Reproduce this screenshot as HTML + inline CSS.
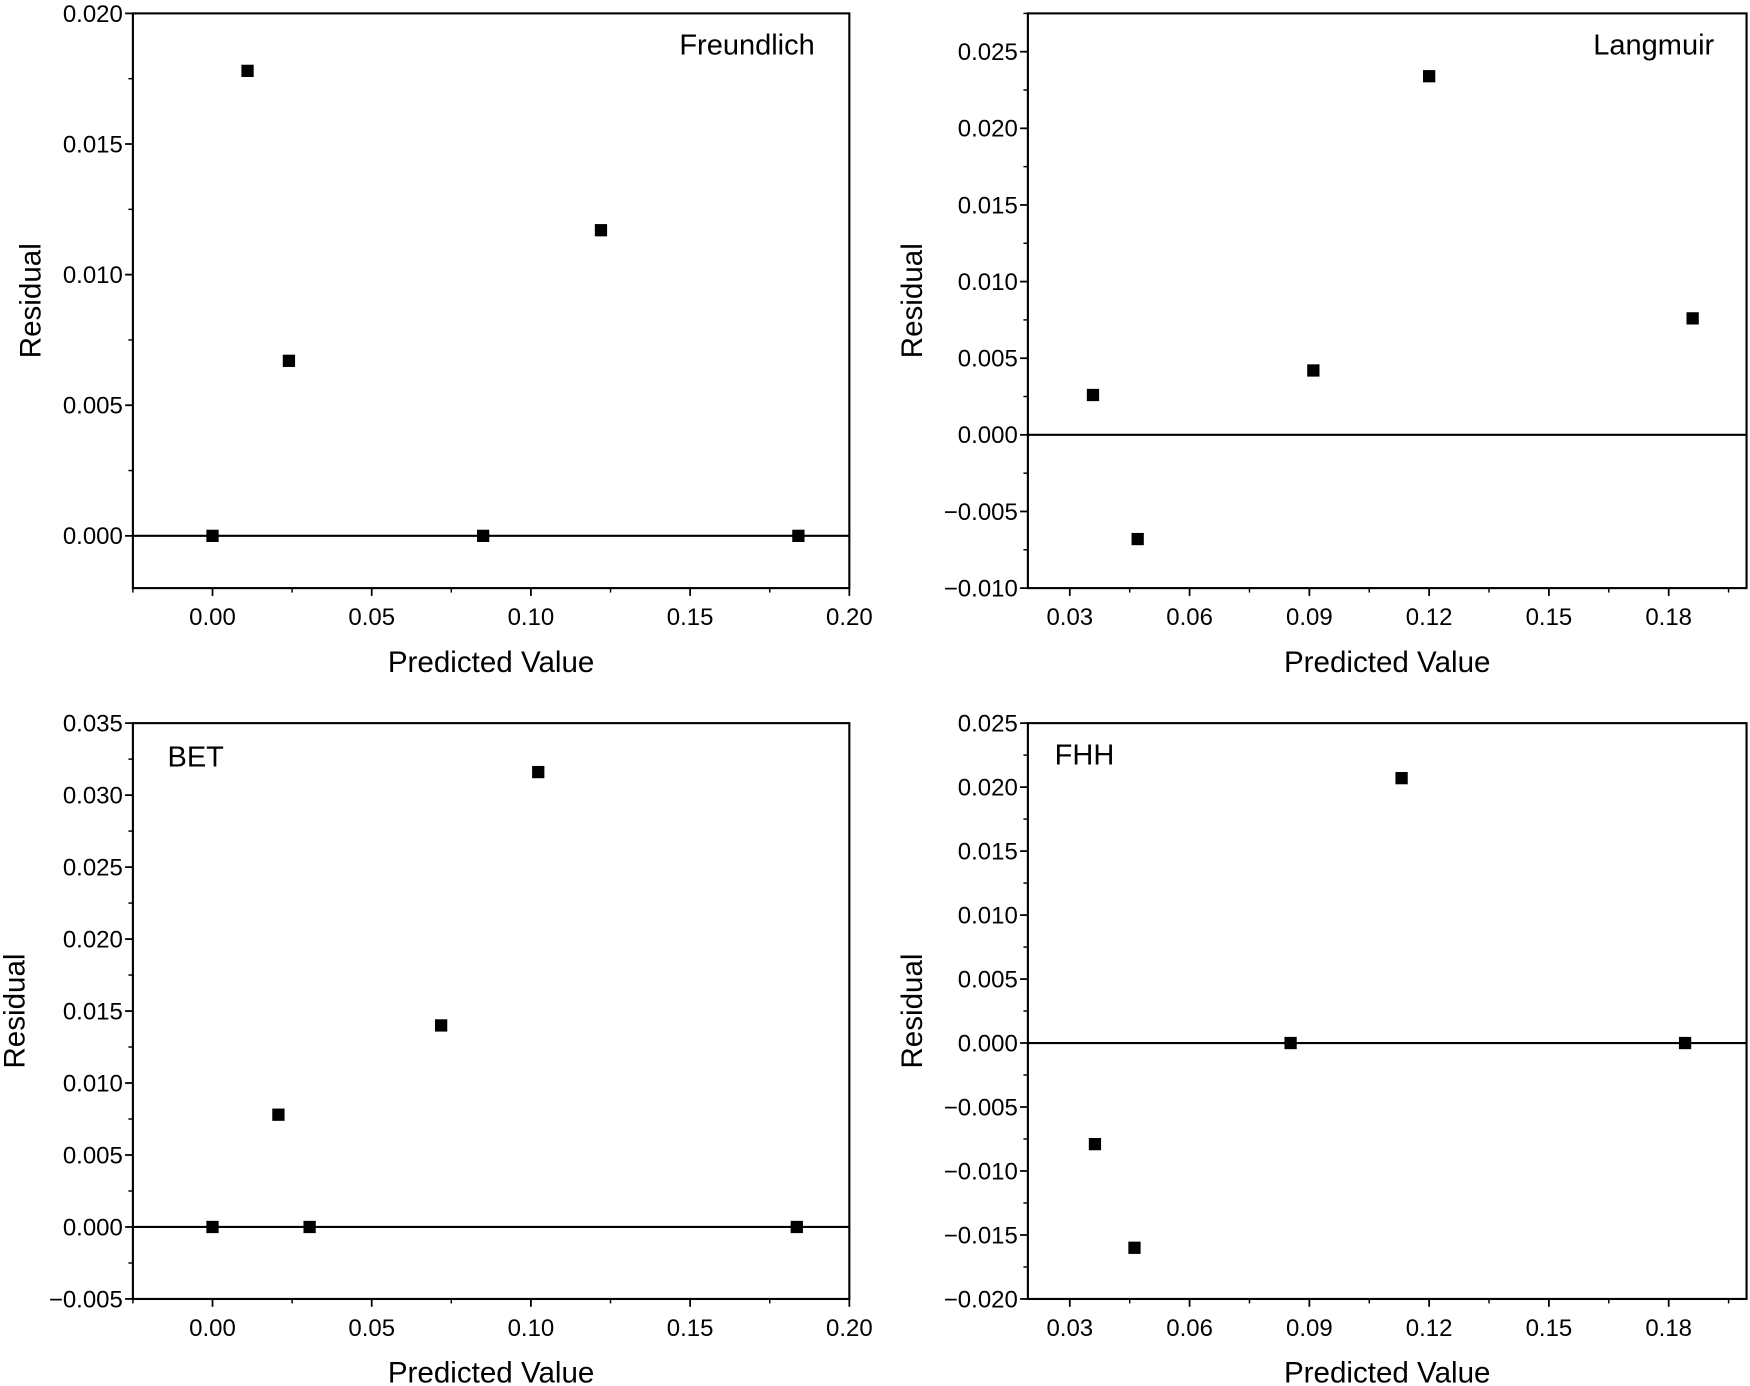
<!DOCTYPE html>
<html><head><meta charset="utf-8"><style>html,body{margin:0;padding:0;background:#fff}svg{display:block}</style></head>
<body>
<svg id="fig" width="1750" height="1386" viewBox="0 0 1568 1242" xmlns="http://www.w3.org/2000/svg" font-family="Liberation Sans, sans-serif"></svg>
<script>
// Data
const freundlichX = [0.000, 0.011, 0.024, 0.085, 0.122, 0.184];
const freundlichY = [0.0000, 0.0178, 0.0067, 0.0000, 0.0117, 0.0000];
const langmuirX = [0.0358, 0.0470, 0.0910, 0.1200, 0.1860];
const langmuirY = [0.0026, -0.0068, 0.0042, 0.0234, 0.0076];
const betX = [0.000, 0.0207, 0.0305, 0.0718, 0.1023, 0.1835];
const betY = [0.0000, 0.0078, 0.0000, 0.0140, 0.0316, 0.0000];
const fhhX = [0.0363, 0.0462, 0.0853, 0.1131, 0.1841];
const fhhY = [-0.0079, -0.0160, 0.0000, 0.0207, 0.0000];
const xTicksA = [0, 0.05, 0.10, 0.15, 0.20];
const xTickLabelsA = ["0.00","0.05","0.10","0.15","0.20"];
const xTicksB = [0.03, 0.06, 0.09, 0.12, 0.15, 0.18];
const xTickLabelsB = ["0.03","0.06","0.09","0.12","0.15","0.18"];
const yTicksF = [0, 0.005, 0.010, 0.015, 0.020];
const yTickLabelsF = ["0.000","0.005","0.010","0.015","0.020"];
const yTicksL = [-0.010,-0.005,0,0.005,0.010,0.015,0.020,0.025];
const yTickLabelsL = ["\u22120.010","\u22120.005","0.000","0.005","0.010","0.015","0.020","0.025"];
const yTicksB = [-0.005,0,0.005,0.010,0.015,0.020,0.025,0.030,0.035];
const yTickLabelsB = ["\u22120.005","0.000","0.005","0.010","0.015","0.020","0.025","0.030","0.035"];
const yTicksH = [-0.020,-0.015,-0.010,-0.005,0,0.005,0.010,0.015,0.020,0.025];
const yTickLabelsH = ["\u22120.020","\u22120.015","\u22120.010","\u22120.005","0.000","0.005","0.010","0.015","0.020","0.025"];

const NS = "http://www.w3.org/2000/svg";
const svg = document.getElementById('fig');
function mk(tag, attrs, parent){const e=document.createElementNS(NS,tag);for(const k in attrs)e.setAttribute(k,attrs[k]);parent.appendChild(e);return e;}

function panel(cfg){
  const g = mk('g',{},svg);
  
  
  const {L,R,T,B,x0,x1,y0,y1}=cfg;
  const sx=v=>L+(v-x0)/(x1-x0)*(R-L);
  const sy=v=>B-(v-y0)/(y1-y0)*(B-T);
  const frame=mk('rect',{x:L,y:T,width:R-L,height:B-T,fill:'none',stroke:'#000','stroke-width':1.9},g);
  
  
  const zl=mk('line',{x1:L,x2:R,y1:sy(0),y2:sy(0),stroke:'#000','stroke-width':1.9},g);
  
  
  const ys=cfg.yt[1]-cfg.yt[0];
  cfg.yt.forEach((v,i)=>{
    mk('line',{x1:L-7,x2:L,y1:sy(v),y2:sy(v),stroke:'#000','stroke-width':1.6},g);
    const t=mk('text',{x:L-9,y:sy(v)+7.5,'text-anchor':'end','font-size':21.5},g);
    t.textContent=cfg.ytl[i];
    
    
    const m=v+ys/2; if(m<=y1) mk('line',{x1:L-4,x2:L,y1:sy(m),y2:sy(m),stroke:'#000','stroke-width':1.3},g);
    if(i===0){const m2=v-ys/2; if(m2>=y0) mk('line',{x1:L-4,x2:L,y1:sy(m2),y2:sy(m2),stroke:'#000','stroke-width':1.3},g);}
  });
  const xs=cfg.xt[1]-cfg.xt[0];
  cfg.xt.forEach((v,i)=>{
    mk('line',{x1:sx(v),x2:sx(v),y1:B,y2:B+7,stroke:'#000','stroke-width':1.6},g);
    const t=mk('text',{x:sx(v),y:B+33,'text-anchor':'middle','font-size':21.5},g);
    t.textContent=cfg.xtl[i];
    
    
    [v-xs/2, v+xs/2].forEach(m=>{ if(m>=x0 && m<=x1 && (i===0 || m>v)) mk('line',{x1:sx(m),x2:sx(m),y1:B,y2:B+4,stroke:'#000','stroke-width':1.3},g);});
  });
  cfg.xs.forEach((v,i)=>{
    const r=mk('rect',{x:sx(v)-5.5,y:sy(cfg.ys[i])-5.5,width:11,height:11,fill:'#000'},g);
    
    
  });
  const xl=mk('text',{x:(L+R)/2,y:B+75,'text-anchor':'middle','font-size':26.5},g);
  xl.textContent='Predicted Value';
  
  
  const yl=mk('text',{x:0,y:0,'text-anchor':'middle','font-size':26.5,transform:`translate(${cfg.ylx},${(T+B)/2}) rotate(-90)`},g);
  yl.textContent='Residual';
  
  
  const an=mk('text',{x:cfg.ax,y:cfg.ay,'text-anchor':cfg.aa,'font-size':26},g);
  an.textContent=cfg.label;
  
  
}

panel({name:'freundlich',label:'Freundlich',L:119,R:761,T:12,B:527,x0:-0.025,x1:0.20,y0:-0.002,y1:0.020,
  xt:xTicksA,xtl:xTickLabelsA,yt:yTicksF,ytl:yTickLabelsF,xs:freundlichX,ys:freundlichY,ylx:36,ax:730,ay:49,aa:'end'});
panel({name:'langmuir',label:'Langmuir',L:921,R:1565,T:12,B:527,x0:0.0195,x1:0.1995,y0:-0.010,y1:0.0275,
  xt:xTicksB,xtl:xTickLabelsB,yt:yTicksL,ytl:yTickLabelsL,xs:langmuirX,ys:langmuirY,ylx:826,ax:1536,ay:49,aa:'end'});
panel({name:'bet',label:'BET',L:119,R:761,T:648,B:1164,x0:-0.025,x1:0.20,y0:-0.005,y1:0.035,
  xt:xTicksA,xtl:xTickLabelsA,yt:yTicksB,ytl:yTickLabelsB,xs:betX,ys:betY,ylx:22,ax:150,ay:687,aa:'start'});
panel({name:'fhh',label:'FHH',L:921,R:1565,T:648,B:1164,x0:0.0195,x1:0.1995,y0:-0.020,y1:0.025,
  xt:xTicksB,xtl:xTickLabelsB,yt:yTicksH,ytl:yTickLabelsH,xs:fhhX,ys:fhhY,ylx:826,ax:945,ay:685,aa:'start'});
</script>
</body></html>
